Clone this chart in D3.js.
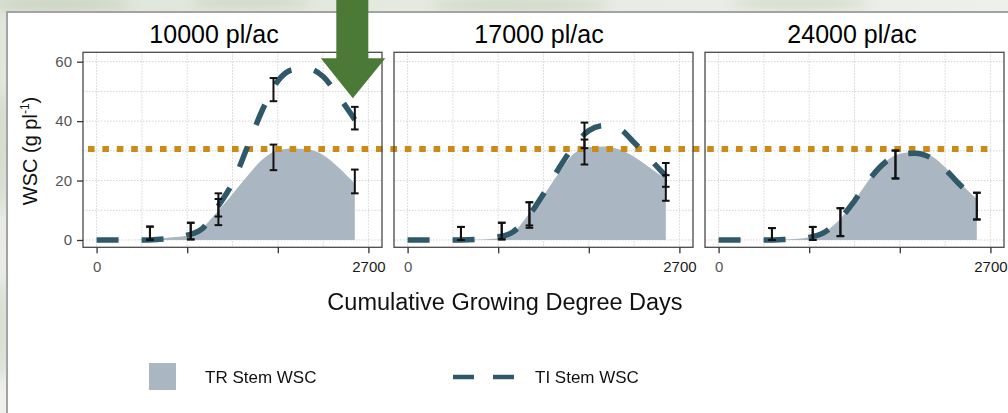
<!DOCTYPE html>
<html>
<head>
<meta charset="utf-8">
<script src="https://cdn.jsdelivr.net/npm/d3@7"></script>
<style>
    body { margin: 0; background: #e6eae2; }
    svg { display: block; font-family: "Liberation Sans", Arial, sans-serif; }
</style>
</head>
<body>
<svg id="canvas"></svg>
<script>
let panelTitles = ["10000 pl/ac", "17000 pl/ac", "24000 pl/ac"]

let curveGdd = [0, 150, 300, 450, 600, 750, 900, 1050, 1200, 1350, 1500, 1650, 1800, 1950, 2100, 2250, 2400, 2565]
let trWsc10k = [0, 0, 0, 0.1, 0.4, 0.9, 1.5, 4.2, 9.5, 15.5, 21.6, 27.2, 30.2, 30.8, 30.5, 28.6, 24.5, 19]
let tiWsc10k = [0, 0, 0, 0, 0.2, 0.6, 1.6, 3.8, 11, 19.2, 31.5, 44, 53.5, 57.3, 57.6, 55, 48.5, 40.5]
let trWsc17k = [0, 0, 0, 0, 0.05, 0.2, 0.6, 2.5, 8.5, 15, 22.5, 29, 31.3, 31.5, 30.5, 28, 24.5, 20.5]
let tiWsc17k = [0, 0, 0, 0, 0.1, 0.4, 1, 2.8, 8, 15.5, 24, 31.5, 36.8, 38.5, 37.5, 32.8, 27.5, 21.5]
let trWsc24k = [0, 0, 0, 0, 0.1, 0.3, 0.9, 2.6, 6.8, 13.2, 20.5, 26.2, 29, 29.6, 28.5, 24.5, 19.2, 13.8]
let tiWsc24k = [0, 0, 0, 0, 0.1, 0.3, 0.9, 2.6, 6.8, 13.2, 20.5, 26, 28.6, 29.2, 27.8, 23.8, 18.5, 13.2]

let sampleGdd = [530, 935, 1210, 1757, 2565]
let trMean10k = [2.3, 3.0, 9.4, 27.8, 19.7]
let trErr10k = [2.2, 2.8, 4.4, 4.3, 4.0]
let tiMean10k = [2.3, 3.0, 11.8, 50.6, 41.0]
let tiErr10k = [2.2, 2.8, 3.9, 3.9, 3.8]
let trMean17k = [2.2, 3.0, 8.4, 29.6, 17.5]
let trErr17k = [2.2, 2.8, 4.3, 4.2, 4.3]
let tiMean17k = [2.2, 3.0, 8.8, 35.2, 21.9]
let tiErr17k = [2.2, 2.8, 3.9, 4.3, 4.0]
let trMean24k = [2.0, 2.2, 6.0, 25.4, 11.4]
let trErr24k = [2.0, 2.2, 4.7, 4.7, 4.5]
let tiMean24k = [2.0, 2.2, 6.0, 25.4, 11.4]
let tiErr24k = [2.0, 2.2, 4.7, 4.7, 4.5]

let threshold = 30.6
let yTicks = [0, 20, 40, 60]
let xTicks = [0, 900, 1800, 2700]
let xLabels = ["0", "", "", "2700"]

let panels = [
    {title: panelTitles[0], tr: trWsc10k, ti: tiWsc10k, trMean: trMean10k, trErr: trErr10k, tiMean: tiMean10k, tiErr: tiErr10k},
    {title: panelTitles[1], tr: trWsc17k, ti: tiWsc17k, trMean: trMean17k, trErr: trErr17k, tiMean: tiMean17k, tiErr: tiErr17k},
    {title: panelTitles[2], tr: trWsc24k, ti: tiWsc24k, trMean: trMean24k, trErr: trErr24k, tiMean: tiMean24k, tiErr: tiErr24k}
]

let width = 1008
let height = 413
let panelLeft = [83, 394, 705]
let titleX = [214, 539, 852]
let panelTop = 52.3
let panelWidth = 299
let panelHeight = 195

let areaColor = "#aab7c2"
let lineColor = "#2f5868"
let thresholdColor = "#cc8a16"

let canvas = d3.select("#canvas")
    .attr("width", width)
    .attr("height", height)

let xScale = d3.scaleLinear()
    .domain([-135, 2835])
    .range([0, panelWidth])

let yScale = d3.scaleLinear()
    .domain([-2.46, 63.16])
    .range([panelHeight, 0])

// photo-ish backdrop behind the white figure box
let defs = canvas.append("defs")
let grad = defs.append("linearGradient").attr("id", "bg").attr("x1", 0).attr("x2", 1).attr("y1", 0).attr("y2", 1)
grad.append("stop").attr("offset", "0%").attr("stop-color", "#dfe5da")
grad.append("stop").attr("offset", "50%").attr("stop-color", "#eef0eb")
grad.append("stop").attr("offset", "100%").attr("stop-color", "#e2e7de")
defs.append("filter").attr("id", "blur").append("feGaussianBlur").attr("stdDeviation", 6)

canvas.append("rect")
    .attr("width", width)
    .attr("height", height)
    .attr("fill", "url(#bg)")

canvas.append("g")
    .attr("filter", "url(#blur)")
    .selectAll("ellipse")
    .data([[60, 4, 70, 8], [250, 2, 60, 6], [520, 5, 90, 7], [800, 3, 70, 6], [2, 150, 6, 60], [2, 330, 6, 50]])
    .enter()
    .append("ellipse")
    .attr("cx", d => d[0]).attr("cy", d => d[1])
    .attr("rx", d => d[2]).attr("ry", d => d[3])
    .attr("fill", "#b9c7ae")
    .attr("opacity", 0.5)

canvas.append("rect")
    .attr("x", 7)
    .attr("y", 12)
    .attr("width", width + 20)
    .attr("height", height + 20)
    .attr("fill", "#ffffff")
    .attr("stroke", "#a3a3a3")
    .attr("stroke-width", 2)

let gridLayer = canvas.append("g")
let areaLayer = canvas.append("g")
let thresholdLayer = canvas.append("g")
let lineLayer = canvas.append("g")
let barLayer = canvas.append("g")
let frameLayer = canvas.append("g")

let area = d3.area()
    .x(d => xScale(d[0]))
    .y0(yScale(0))
    .y1(d => yScale(d[1]))
    .curve(d3.curveMonotoneX)

let line = d3.line()
    .x(d => xScale(d[0]))
    .y(d => yScale(d[1]))
    .curve(d3.curveMonotoneX)

panels.forEach((panel, i) => {
    let tx = "translate(" + panelLeft[i] + "," + panelTop + ")"

    let grid = gridLayer.append("g").attr("transform", tx)
    grid.selectAll(".vgrid")
        .data(d3.range(0, 2701, 450))
        .enter()
        .append("line")
        .attr("x1", d => xScale(d)).attr("x2", d => xScale(d))
        .attr("y1", 0).attr("y2", panelHeight)
    grid.selectAll(".hgrid")
        .data(d3.range(0, 61, 10))
        .enter()
        .append("line")
        .attr("x1", 0).attr("x2", panelWidth)
        .attr("y1", d => yScale(d)).attr("y2", d => yScale(d))
    grid.selectAll("line")
        .attr("stroke", "#cfcfcf")
        .attr("stroke-width", 0.9)
        .attr("stroke-dasharray", "1.5,1.5")

    let curveTr = curveGdd.map((g, k) => [g, panel.tr[k]])
    let curveTi = curveGdd.map((g, k) => [g, panel.ti[k]])

    areaLayer.append("path")
        .attr("transform", tx)
        .attr("d", area(curveTr))
        .attr("fill", areaColor)

    lineLayer.append("path")
        .attr("transform", tx)
        .attr("d", line(curveTi))
        .attr("fill", "none")
        .attr("stroke", lineColor)
        .attr("stroke-width", 5.5)
        .attr("stroke-dasharray", "22,23")

    let bars = []
    sampleGdd.forEach((g, k) => {
        bars.push({x: g, lo: panel.trMean[k] - panel.trErr[k], hi: panel.trMean[k] + panel.trErr[k]})
        bars.push({x: g, lo: panel.tiMean[k] - panel.tiErr[k], hi: panel.tiMean[k] + panel.tiErr[k]})
    })

    let barG = barLayer.append("g").attr("transform", tx)
    let bar = barG.selectAll("g")
        .data(bars)
        .enter()
        .append("g")
    bar.append("line")
        .attr("x1", d => xScale(d.x)).attr("x2", d => xScale(d.x))
        .attr("y1", d => yScale(d.lo)).attr("y2", d => yScale(d.hi))
    bar.append("line")
        .attr("x1", d => xScale(d.x) - 3.8).attr("x2", d => xScale(d.x) + 3.8)
        .attr("y1", d => yScale(d.lo)).attr("y2", d => yScale(d.lo))
    bar.append("line")
        .attr("x1", d => xScale(d.x) - 3.8).attr("x2", d => xScale(d.x) + 3.8)
        .attr("y1", d => yScale(d.hi)).attr("y2", d => yScale(d.hi))
    bar.selectAll("line")
        .attr("stroke", "#111111")
        .attr("stroke-width", 2)

    let frame = frameLayer.append("g").attr("transform", tx)
    frame.append("rect")
        .attr("width", panelWidth)
        .attr("height", panelHeight)
        .attr("fill", "none")
        .attr("stroke", "#4a4a4a")
        .attr("stroke-width", 1.3)

    let xAxis = d3.axisBottom(xScale)
        .tickValues(xTicks)
        .tickFormat((d, k) => xLabels[k])
        .tickSize(6)
        .tickPadding(8)

    let xg = frame.append("g")
        .attr("transform", "translate(0," + panelHeight + ")")
        .call(xAxis)
    xg.select(".domain").remove()
    xg.selectAll(".tick line").attr("stroke", "#333333").attr("stroke-width", 1.3)
    xg.selectAll(".tick text")
        .style("font-size", "15px")
        .style("font-family", "Liberation Sans, Arial, sans-serif")
        .attr("fill", (d, k) => k == 0 ? "#555555" : "#1a1a1a")

    if (i == 0) {
        let yAxis = d3.axisLeft(yScale)
            .tickValues(yTicks)
            .tickSize(6)
            .tickPadding(5)
        let yg = frame.append("g").call(yAxis)
        yg.select(".domain").remove()
        yg.selectAll(".tick line").attr("stroke", "#333333").attr("stroke-width", 1.3)
        yg.selectAll(".tick text")
            .style("font-size", "15px")
            .style("font-family", "Liberation Sans, Arial, sans-serif")
            .attr("fill", "#555555")
    }

    canvas.append("text")
        .attr("x", titleX[i])
        .attr("y", 42.5)
        .attr("text-anchor", "middle")
        .style("font-size", "25px")
        .attr("fill", "#000000")
        .text(panel.title)
})

thresholdLayer.append("line")
    .attr("x1", 88)
    .attr("x2", 995)
    .attr("y1", panelTop + yScale(threshold))
    .attr("y2", panelTop + yScale(threshold))
    .attr("stroke", thresholdColor)
    .attr("stroke-width", 6)
    .attr("stroke-dasharray", "6.6,7.8")

canvas.append("text")
    .attr("transform", "translate(37,151) rotate(-90)")
    .attr("text-anchor", "middle")
    .style("font-size", "20px")
    .attr("fill", "#111111")
    .call(t => {
        t.append("tspan").text("WSC (g pl")
        t.append("tspan").attr("dy", -8).style("font-size", "12px").text("-1")
        t.append("tspan").attr("dy", 8).text(")")
    })

canvas.append("text")
    .attr("x", 505)
    .attr("y", 310)
    .attr("text-anchor", "middle")
    .style("font-size", "23.5px")
    .attr("fill", "#111111")
    .text("Cumulative Growing Degree Days")

// legend
canvas.append("rect")
    .attr("x", 149)
    .attr("y", 363)
    .attr("width", 27)
    .attr("height", 27)
    .attr("fill", areaColor)

canvas.append("text")
    .attr("x", 205)
    .attr("y", 383)
    .style("font-size", "17px")
    .attr("fill", "#111111")
    .text("TR Stem WSC")

canvas.append("line")
    .attr("x1", 453)
    .attr("x2", 514)
    .attr("y1", 377)
    .attr("y2", 377)
    .attr("stroke", lineColor)
    .attr("stroke-width", 4.5)
    .attr("stroke-dasharray", "21,19")

canvas.append("text")
    .attr("x", 535)
    .attr("y", 383)
    .style("font-size", "17px")
    .attr("fill", "#111111")
    .text("TI Stem WSC")

// arrow pointing at the last TI sample of the first panel
let lastK = sampleGdd.length - 1
let tipX = panelLeft[0] + xScale(sampleGdd[lastK]) - 2
let tipY = panelTop + yScale(tiMean10k[lastK] + tiErr10k[lastK]) - 8.5
canvas.append("polygon")
    .attr("points", [
        [tipX - 16.5, 0], [tipX + 15.5, 0], [tipX + 15.5, tipY - 40],
        [tipX + 32.5, tipY - 40], [tipX, tipY], [tipX - 32, tipY - 40],
        [tipX - 16.5, tipY - 40]
    ].map(p => p.join(",")).join(" "))
    .attr("fill", "#4b7a37")
</script>
</body>
</html>
